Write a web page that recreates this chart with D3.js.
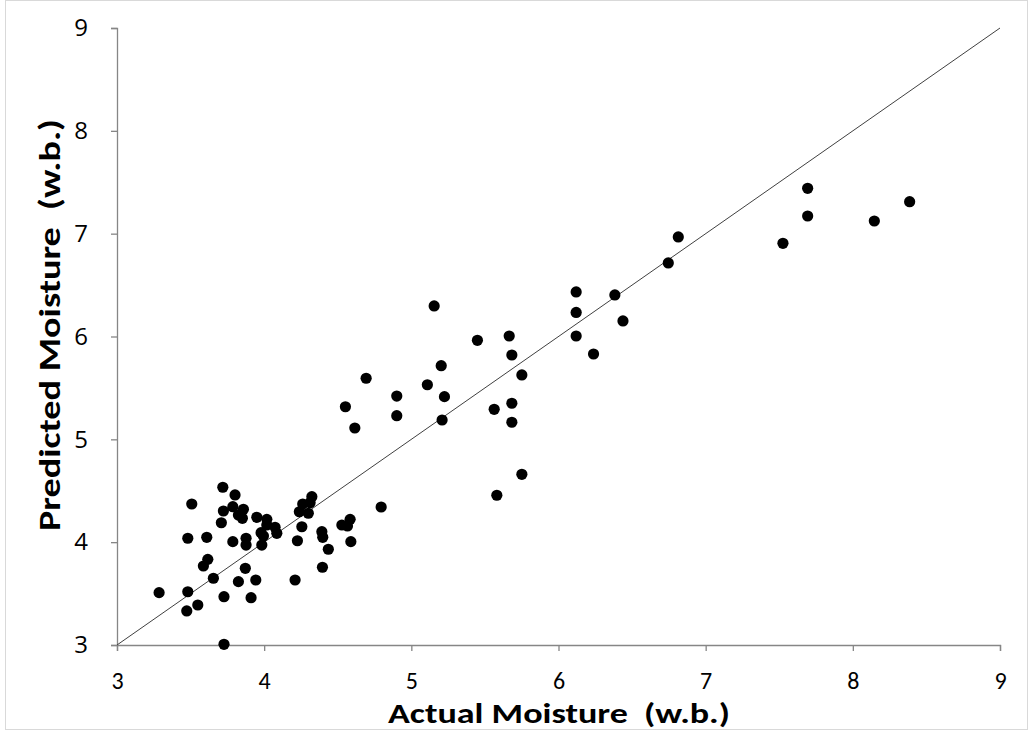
<!DOCTYPE html>
<html><head><meta charset="utf-8">
<script src="https://cdn.jsdelivr.net/npm/d3@7"></script>
<style>body{margin:0;background:#fff}svg{display:block}</style>
</head><body>
<script>
const actual = [3.719,3.802,3.508,3.787,3.723,3.859,3.825,3.852,3.709,3.950,4.018,4.018,3.979,3.995,4.074,4.086,3.481,3.610,3.787,3.877,3.877,3.984,4.324,4.262,4.312,4.239,4.300,4.256,4.226,4.392,4.398,4.436,4.528,4.584,4.566,4.589,4.396,4.210,3.617,3.587,3.872,3.655,3.825,3.943,3.286,3.481,3.727,3.911,3.549,3.474,3.727,4.795,
5.683,5.203,5.751,4.693,5.109,4.901,5.225,4.552,5.563,5.683,4.901,4.616,5.209,5.683,5.751,5.581,6.120,6.383,6.120,6.438,5.449,5.665,6.120,6.238,5.155,6.746,6.814,7.693,7.693,7.525,8.146,8.386];
const predicted = [4.534,4.459,4.371,4.345,4.303,4.320,4.264,4.232,4.189,4.242,4.222,4.167,4.092,4.060,4.145,4.086,4.038,4.047,4.005,4.038,3.972,3.972,4.442,4.371,4.384,4.296,4.281,4.150,4.014,4.102,4.047,3.931,4.167,4.222,4.157,4.005,3.756,3.632,3.833,3.768,3.746,3.649,3.616,3.632,3.509,3.518,3.470,3.460,3.389,3.331,3.007,4.342,
5.820,5.716,5.626,5.594,5.531,5.421,5.415,5.317,5.292,5.351,5.230,5.110,5.188,5.166,4.660,4.456,6.433,6.404,6.234,6.151,5.963,6.005,6.005,5.830,6.297,6.715,6.968,7.441,7.172,6.906,7.123,7.311];
const xTicks = [3,4,5,6,7,8,9];
const yTicks = [3,4,5,6,7,8,9];
const xTitle = "Actual Moisture\u00a0\u00a0(w.b.)";
const yTitle = "Predicted Moisture\u00a0\u00a0(w.b.)";

const W = 1031, H = 735;
const svg = d3.select("body").append("svg").attr("width", W).attr("height", H);
svg.append("rect").attr("x",5.5).attr("y",0.5).attr("width",1022).attr("height",729)
  .attr("fill","#fff").attr("stroke","#d9d9d9");

const x = d3.scaleLinear().domain([3,9]).range([117,1000]);
const y = d3.scaleLinear().domain([3,9]).range([645,28]);
const axisColor = "#868686";
const calibri = "Carlito, Calibri, sans-serif";

const gx = svg.append("g").attr("transform","translate(0,645)")
  .call(d3.axisBottom(x).tickValues(xTicks).tickSize(6).tickPadding(21).tickFormat(d3.format("d")));
const gy = svg.append("g").attr("transform","translate(117,0)")
  .call(d3.axisLeft(y).tickValues(yTicks).tickSize(6).tickPadding(23).tickFormat(d3.format("d")));
[gx,gy].forEach(g=>{
  g.select(".domain").attr("stroke",axisColor).attr("stroke-width",1.3);
  g.selectAll(".tick line").attr("stroke",axisColor).attr("stroke-width",1.3);
  g.selectAll(".tick text").attr("fill","#000");
});
gx.selectAll(".tick text").style("font-family",calibri).style("font-size","24px");
gy.selectAll(".tick text").style("font-family","'Open Sans', sans-serif").style("font-size","24px");

svg.append("line").attr("x1",x(3)).attr("y1",y(3)).attr("x2",x(9)).attr("y2",y(9))
  .attr("stroke","#404040").attr("stroke-width",1);

svg.append("g").selectAll("circle").data(actual.map((a,i)=>[a,predicted[i]])).join("circle")
  .attr("cx",d=>x(d[0])).attr("cy",d=>y(d[1])).attr("r",5.6).attr("fill","#000");

svg.append("text").attr("x",559).attr("y",723).attr("text-anchor","middle")
  .attr("textLength",342).attr("lengthAdjust","spacingAndGlyphs")
  .style("font-family",calibri).style("font-weight","bold").style("font-size","29px").text(xTitle);
svg.append("text").attr("transform","translate(60,325) rotate(-90)").attr("text-anchor","middle")
  .attr("textLength",412).attr("lengthAdjust","spacingAndGlyphs")
  .style("font-family",calibri).style("font-weight","bold").style("font-size","30px").text(yTitle);
</script>
</body></html>
